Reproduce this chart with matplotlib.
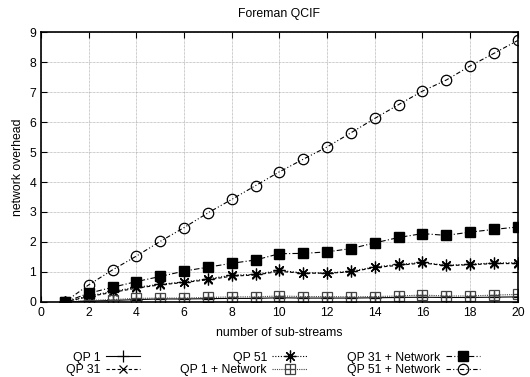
import matplotlib
matplotlib.use("Agg")
import matplotlib.pyplot as plt
from matplotlib.legend_handler import HandlerTuple

plt.rcParams['font.family'] = ['Liberation Sans', 'DejaVu Sans']
plt.rcParams['font.size'] = 8.8

x = list(range(1, 21))
qp1 = [0, 0.03, 0.05, 0.08, 0.10, 0.10, 0.11, 0.12, 0.12, 0.14, 0.13, 0.13, 0.13, 0.14, 0.15, 0.16, 0.15, 0.15, 0.16, 0.17]
qp31 = [0, 0.18, 0.32, 0.46, 0.57, 0.65, 0.74, 0.86, 0.90, 1.02, 0.96, 0.96, 1.00, 1.15, 1.22, 1.30, 1.21, 1.24, 1.28, 1.28]
qp51 = [0, 0.20, 0.35, 0.49, 0.59, 0.67, 0.77, 0.89, 0.92, 1.05, 0.97, 0.97, 1.02, 1.17, 1.25, 1.32, 1.22, 1.26, 1.30, 1.31]
qp1_net = [0, 0.05, 0.08, 0.12, 0.13, 0.13, 0.15, 0.17, 0.17, 0.20, 0.18, 0.18, 0.17, 0.18, 0.20, 0.23, 0.20, 0.20, 0.23, 0.25]
qp31_net = [0, 0.29, 0.49, 0.68, 0.85, 1.03, 1.16, 1.29, 1.40, 1.61, 1.62, 1.67, 1.78, 1.97, 2.15, 2.28, 2.22, 2.33, 2.42, 2.50]
qp51_net = [0, 0.57, 1.07, 1.53, 2.02, 2.48, 2.97, 3.42, 3.88, 4.34, 4.76, 5.17, 5.64, 6.12, 6.58, 7.03, 7.40, 7.87, 8.29, 8.72]

labels = ["QP 1", "QP 31", "QP 51", "QP 1 + Network", "QP 31 + Network", "QP 51 + Network"]
xticks = list(range(0, 21, 2))
yticks = list(range(0, 10))

fig = plt.figure(figsize=(5.30, 3.77), dpi=100)
ax = fig.add_axes([0.0774, 0.199, 0.8996, 0.716])

lw = 0.8
h1, = ax.plot(x, qp1, color='black', lw=lw, ls='-', marker='+', ms=8, mew=0.9)
h2, = ax.plot(x, qp31, color='black', lw=lw, ls=(0, (3, 2)), marker='x', ms=6, mew=0.9)
h3, = ax.plot(x, qp51, color='black', lw=lw, ls=(0, (1, 1.5)), marker=(8, 2, 0), ms=8.5, mew=0.9)
h4a, = ax.plot(x, qp1_net, color='#444444', lw=lw, ls=(0, (1, 1)), marker='s', ms=6.5, mfc='none', mew=0.9)
h4b, = ax.plot(x, qp1_net, color='#444444', lw=0, marker='+', ms=6.5, mew=0.9)
h5, = ax.plot(x, qp31_net, color='black', lw=lw, ls=(0, (5, 2, 1, 2)), marker='s', ms=6.5, mfc='black')
h6, = ax.plot(x, qp51_net, color='black', lw=lw, ls=(0, (4, 2, 1, 2, 1, 2)), marker='o', ms=7.5, mfc='none', mew=0.9)

ax.set_xlim(0, 20)
ax.set_ylim(0, 9)
ax.set_xticks(xticks)
ax.set_yticks(yticks)
ax.grid(True, color='#999999', ls=(0, (1, 1)), lw=0.5)
ax.tick_params(direction='in', top=True, right=True, length=4, labelsize=8.8)
for s in ax.spines.values():
    s.set_linewidth(1.2)

ax.set_title("Foreman QCIF", fontsize=8.8, pad=11)
ax.set_xlabel("number of sub-streams", fontsize=8.8, labelpad=6)
ax.set_ylabel("network overhead", fontsize=8.8)

fig.legend([h1, h2, h3, (h4a, h4b), h5, h6], labels,
           handler_map={tuple: HandlerTuple(ndivide=1)},
           loc='lower center', bbox_to_anchor=(0.515, -0.027), ncol=3,
           markerfirst=False, frameon=False, fontsize=8.8,
           handlelength=2.8, labelspacing=0.05, columnspacing=3.3,
           handletextpad=0.45)

fig.savefig("out.png", dpi=100)
